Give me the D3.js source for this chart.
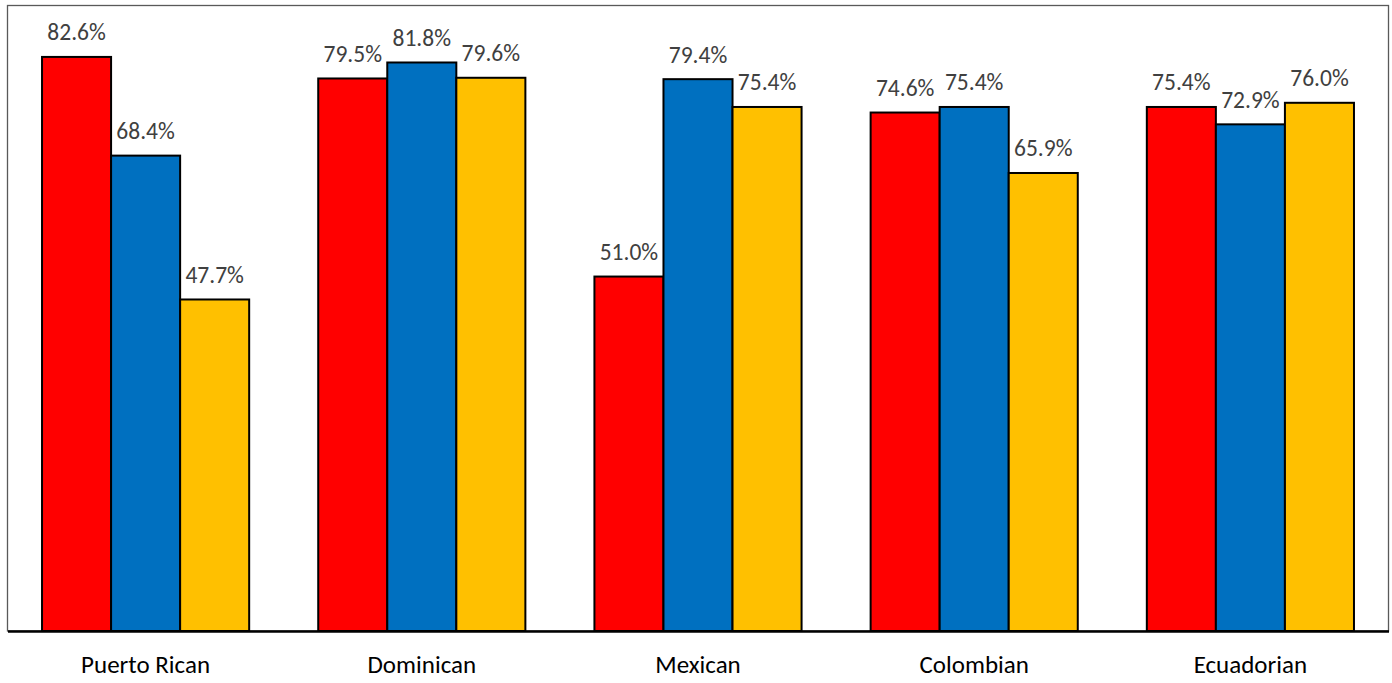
<!DOCTYPE html>
<html><head><meta charset="utf-8">
<script src="https://cdn.jsdelivr.net/npm/d3@7"></script>
<style>html,body{margin:0;padding:0;background:#fff}svg{display:block}</style>
</head><body>
<svg id="chart" width="1392" height="683"></svg>
<script>
const categories = ["Puerto Rican","Dominican","Mexican","Colombian","Ecuadorian"];
const seriesNames = ["s1","s2","s3"];
const series1 = [82.6, 79.5, 51.0, 74.6, 75.4];
const series2 = [68.4, 81.8, 79.4, 75.4, 72.9];
const series3 = [47.7, 79.6, 75.4, 65.9, 76.0];
const colors = ["#FF0000","#0070C0","#FFC000"];
const yMax = 90;

const svg = d3.select("#chart");
const L = 7.5, R = 1388.5, T = 5.5, B = 631;
const FONT = "Carlito, Calibri, 'Open Sans', sans-serif";
const x0 = d3.scaleBand().domain(categories).range([L, R]).paddingInner(0.25).paddingOuter(0.125);
const x1 = d3.scaleBand().domain(seriesNames).range([0, x0.bandwidth()]);
const y = d3.scaleLinear().domain([0, yMax]).range([B, T]);

// frame
svg.append("rect").attr("x", L).attr("y", T).attr("width", R - L).attr("height", B - T)
  .attr("fill", "none").attr("stroke", "#595959").attr("stroke-width", 1.3);

const data = categories.map((c, i) => ({cat: c, vals: [series1[i], series2[i], series3[i]]}));
const g = svg.selectAll("g.grp").data(data).join("g").attr("class","grp")
  .attr("transform", d => `translate(${x0(d.cat)},0)`);
g.selectAll("rect").data(d => d.vals.map((v, j) => ({v, j})))
  .join("rect")
  .attr("x", d => x1(seriesNames[d.j]))
  .attr("y", d => y(d.v))
  .attr("width", x1.bandwidth())
  .attr("height", d => B - y(d.v))
  .attr("fill", d => colors[d.j])
  .attr("stroke", "#000").attr("stroke-width", 2);
g.selectAll("text").data(d => d.vals.map((v, j) => ({v, j})))
  .join("text")
  .attr("x", d => x1(seriesNames[d.j]) + x1.bandwidth()/2)
  .attr("y", d => y(d.v) - 16.5)
  .attr("text-anchor", "middle")
  .attr("font-family", FONT)
  .attr("font-size", 23.5).attr("fill", "#404040")
  .text(d => d.v.toFixed(1) + "%");

// x axis
const ax = svg.append("g").attr("transform", `translate(0,${B})`)
  .call(d3.axisBottom(x0).tickSize(0));
ax.select(".domain").attr("stroke", "#000").attr("stroke-width", 2.5);
ax.selectAll(".tick text").attr("y", 42).attr("dy", 0)
  .attr("font-family", FONT).attr("font-size", 25).attr("fill", "#000");
</script>
</body></html>
